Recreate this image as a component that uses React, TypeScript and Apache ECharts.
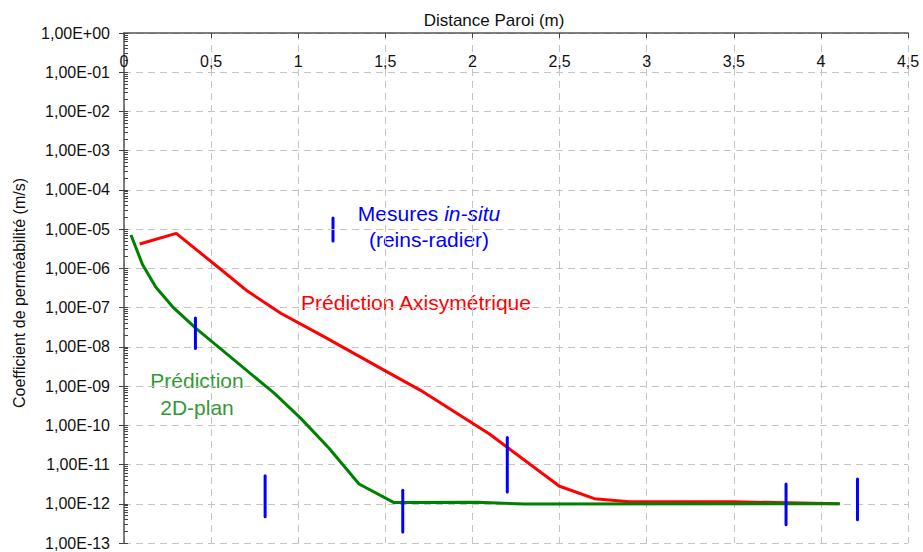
import React, { useEffect, useRef } from "react";
import * as echarts from "echarts";

// Prédiction Axisymétrique (red)
const redDist = [0.09, 0.30, 0.56, 0.71, 0.90, 1.15, 1.51, 1.70, 2.10, 2.50, 2.70, 2.90, 3.50, 4.10];
const redK = [4.2e-6, 7.8e-6, 9.1e-7, 2.6e-7, 7.2e-8, 1.8e-8, 2.3e-9, 7.9e-10, 5.9e-11, 2.8e-12, 1.35e-12, 1.12e-12, 1.12e-12, 1.0e-12];

// Prédiction 2D-plan (green)
const greenDist = [0.04, 0.107, 0.183, 0.279, 0.413, 0.862, 1.015, 1.177, 1.349, 1.55, 2.03, 2.30, 4.11];
const greenK = [7.1e-6, 1.23e-6, 3.3e-7, 1.05e-7, 2.95e-8, 6.6e-10, 1.5e-10, 2.6e-11, 3.2e-12, 1.07e-12, 1.1e-12, 9.8e-13, 1.0e-12];

// Mesures in-situ (blue ranges)
const measDist = [0.41, 0.81, 1.60, 2.20, 3.80, 4.21];
const measLow = [9.1e-9, 4.7e-13, 1.9e-13, 2.0e-12, 2.9e-13, 3.9e-13];
const measHigh = [5.4e-8, 5.2e-12, 2.2e-12, 4.9e-11, 3.2e-12, 4.3e-12];

const xTicks = [0, 0.5, 1, 1.5, 2, 2.5, 3, 3.5, 4, 4.5];

const FONT = "'Liberation Sans', Arial, sans-serif";

function fmtY(v: number): string {
  const e = Math.round(Math.log10(v));
  const a = Math.abs(e);
  return "1,00E" + (e < 0 ? "-" : "+") + (a < 10 ? "0" + a : String(a));
}

export default function App() {
  const ref = useRef<HTMLDivElement>(null);
  useEffect(() => {
    document.body.style.margin = "0";
    if (!ref.current) return;
    const chart = echarts.init(ref.current, null, { renderer: "svg" });
    const redData = redDist.map((d, i) => [d, redK[i]]);
    const greenData = greenDist.map((d, i) => [d, greenK[i]]);
    const measData = measDist.map((d, i) => [d, measLow[i], measHigh[i]]);

    const yCommon = {
      type: "log",
      logBase: 10,
      min: 1e-13,
      max: 1,
      interval: 1,
      splitNumber: 13,
    };

    chart.setOption({
      animation: false,
      backgroundColor: "#ffffff",
      textStyle: { fontFamily: FONT },
      grid: { left: 124, right: 15, top: 33, bottom: 9, containLabel: false },
      xAxis: {
        type: "value",
        position: "top",
        min: 0,
        max: 4.5,
        interval: 0.5,
        axisLine: { show: true, onZero: false, lineStyle: { color: "#555", width: 1.5 } },
        axisTick: { show: true, inside: true, length: 5, lineStyle: { color: "#444" } },
        axisLabel: {
          inside: true,
          margin: 20,
          fontSize: 16,
          color: "#111",
          fontFamily: FONT,
          formatter: (v: number) => (xTicks.indexOf(v) >= 0 ? String(v).replace(".", ",") : ""),
        },
        splitLine: { show: true, lineStyle: { color: "#c4c4c4", type: [7, 5], width: 1 } },
      },
      yAxis: [
        {
          ...yCommon,
          position: "left",
          axisLine: { show: true, onZero: false, lineStyle: { color: "#555", width: 1.5 } },
          axisTick: { show: true, inside: false, length: 5, lineStyle: { color: "#444" } },
          minorTick: { show: false },
          axisLabel: {
            fontSize: 16,
            color: "#111",
            margin: 14,
            fontFamily: FONT,
            formatter: (v: number) => fmtY(v),
          },
          splitLine: { show: true, lineStyle: { color: "#c4c4c4", type: [7, 5], width: 1 } },
        },
        {
          ...yCommon,
          position: "left",
          axisLine: { show: false },
          axisTick: { show: true, inside: true, length: 4, lineStyle: { color: "#444" } },
          minorTick: { show: true, splitNumber: 9, length: 4, lineStyle: { color: "#444" } },
          axisLabel: { show: false },
          splitLine: { show: false },
        },
      ],
      series: [
        {
          name: "Prédiction Axisymétrique",
          type: "line",
          data: redData,
          showSymbol: false,
          lineStyle: { color: "#ff0000", width: 3 },
          z: 2,
        },
        {
          name: "Prédiction 2D-plan",
          type: "line",
          data: greenData,
          showSymbol: false,
          lineStyle: { color: "#008000", width: 3 },
          z: 3,
        },
        {
          name: "Mesures in-situ",
          type: "custom",
          data: measData,
          encode: { x: 0, y: [1, 2] },
          z: 4,
          renderItem: (params: any, api: any) => {
            const p1 = api.coord([api.value(0), api.value(1)]);
            const p2 = api.coord([api.value(0), api.value(2)]);
            return {
              type: "line",
              shape: { x1: p1[0], y1: p1[1], x2: p2[0], y2: p2[1] },
              style: { stroke: "#0000ff", lineWidth: 3, lineCap: "round" },
            };
          },
        },
      ],
      graphic: [
        {
          type: "text",
          x: 494,
          y: 20,
          style: { text: "Distance Paroi (m)", fontSize: 17, fontFamily: FONT, fill: "#111", align: "center", verticalAlign: "middle" },
        },
        {
          type: "text",
          x: 19,
          y: 293,
          rotation: Math.PI / 2,
          style: { text: "Coefficient de perméabilité (m/s)", fontSize: 16, fontFamily: FONT, fill: "#111", align: "center", verticalAlign: "middle" },
        },
        {
          type: "line",
          shape: { x1: 333, y1: 218, x2: 333, y2: 241 },
          style: { stroke: "#0000ff", lineWidth: 3, lineCap: "round" },
        },
        {
          type: "text",
          x: 429,
          y: 213,
          style: {
            text: "{n|Mesures }{i|in-situ}",
            align: "center",
            verticalAlign: "middle",
            rich: {
              n: { fontSize: 21, fontFamily: FONT, fill: "#0000ff", color: "#0000ff" },
              i: { fontSize: 21, fontFamily: FONT, fontStyle: "italic", fill: "#0000ff", color: "#0000ff" },
            },
          },
        },
        {
          type: "text",
          x: 429,
          y: 239,
          style: { text: "(reins-radier)", fontSize: 21, fontFamily: FONT, fill: "#0000ff", align: "center", verticalAlign: "middle" },
        },
        {
          type: "text",
          x: 416,
          y: 302,
          style: { text: "Prédiction Axisymétrique", fontSize: 21, fontFamily: FONT, fill: "#ff0000", align: "center", verticalAlign: "middle" },
        },
        {
          type: "text",
          x: 197,
          y: 380,
          style: { text: "Prédiction", fontSize: 21, fontFamily: FONT, fill: "#339933", align: "center", verticalAlign: "middle" },
        },
        {
          type: "text",
          x: 197,
          y: 407,
          style: { text: "2D-plan", fontSize: 21, fontFamily: FONT, fill: "#339933", align: "center", verticalAlign: "middle" },
        },
      ],
    });
    return () => chart.dispose();
  }, []);
  return <div ref={ref} style={{ width: 923, height: 552 }} />;
}
